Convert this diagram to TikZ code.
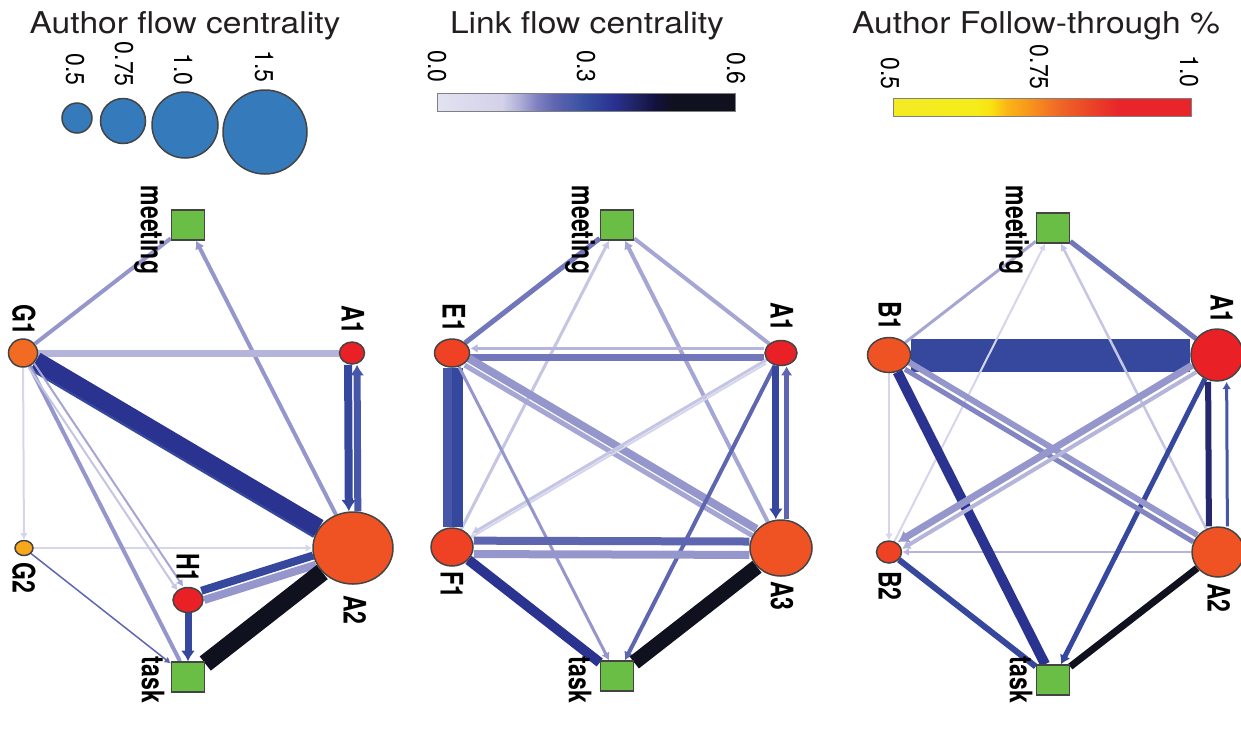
\documentclass[tikz,border=0pt]{standalone}
\usepackage{fontspec}
\setmainfont{TeX Gyre Heros}
\usetikzlibrary{shapes.geometric,arrows.meta,backgrounds}

% node colours
\definecolor{nodeline}{HTML}{444444}
\definecolor{actgreen}{HTML}{6ABD45}
\definecolor{legblue}{HTML}{357ABB}
\definecolor{authA}{HTML}{E92127}
\definecolor{authB}{HTML}{F05323}
\definecolor{authC}{HTML}{F26B22}
\definecolor{authD}{HTML}{F7A71B}
\definecolor{authE}{HTML}{EF4123}
\definecolor{titlegray}{HTML}{231F20}
% link colours, light to dark
\definecolor{lk1}{HTML}{D5D5EC}
\definecolor{lk2}{HTML}{C5C5E4}
\definecolor{lk3}{HTML}{B5B5DC}
\definecolor{lk4}{HTML}{A5A6D4}
\definecolor{lk5}{HTML}{9596CB}
\definecolor{lk6}{HTML}{8385C3}
\definecolor{lk7}{HTML}{7276BA}
\definecolor{lk8}{HTML}{5F66B0}
\definecolor{lk9}{HTML}{4656A8}
\definecolor{lk10}{HTML}{36489E}
\definecolor{lk11}{HTML}{2A3390}
\definecolor{lk12}{HTML}{25286F}
\definecolor{lk13}{HTML}{10111E}
% colour bar stops
\definecolor{cb0}{HTML}{E3E2F1}
\definecolor{cb1}{HTML}{D2D1E9}
\definecolor{cb2}{HTML}{ABABD6}
\definecolor{cb3}{HTML}{7E80C0}
\definecolor{cb4}{HTML}{6166B1}
\definecolor{cb5}{HTML}{3850A2}
\definecolor{cb6}{HTML}{2A3290}
\definecolor{cb7}{HTML}{1F2260}
\definecolor{cb8}{HTML}{11123E}
\definecolor{cb9}{HTML}{10111E}
\definecolor{yb0}{HTML}{F4EB24}
\definecolor{yb1}{HTML}{F6EC1A}
\definecolor{yb2}{HTML}{F9E010}
\definecolor{yb3}{HTML}{FBB516}
\definecolor{yb4}{HTML}{F7941D}
\definecolor{yb5}{HTML}{F06A26}
\definecolor{yb6}{HTML}{EB4427}
\definecolor{yb7}{HTML}{E8252A}

\tikzset{
	author/.style={ellipse, draw=nodeline, line width=0.75pt, inner sep=0pt},
	act/.style={rectangle, draw=nodeline, fill=actgreen, line width=0.75pt, minimum width=16.5pt, minimum height=15pt, inner sep=0pt},
	lbl/.style={font=\fontsize{11.5}{12}\selectfont\bfseries, xscale=1.35, rotate=-90, inner sep=0pt},
	num/.style={font=\fontsize{11.5}{12}\selectfont, xscale=1.12, rotate=-90, anchor=east, inner sep=0pt},
	ttl/.style={font=\fontsize{15}{18}\selectfont, text=titlegray, xscale=1.12, anchor=base, inner sep=0pt},
	arr/.style={-{Latex[length=2.5pt 0.8, width=2.5pt 1.3]}}
}

\begin{document}
\begin{tikzpicture}[x=0.5pt,y=-0.5pt]
	\useasboundingbox (0,0) rectangle (1241,751);

	% titles and legends
	\node[ttl] (ttlA) at (185,33) {Author flow centrality};
	\node[ttl] (ttlB) at (587,33) {Link flow centrality};
	\node[ttl] (ttlC) at (1036,33) {Author Follow-through \%};

	\foreach \cx/\cy/\r/\lx/\ly/\v in {77/118/15/75/86/0.5, 123/121/22.5/124/87/0.75, 185/125/33/183/86/1.0, 265/132/42/264/83/1.5}{
		\draw[fill=legblue, draw=nodeline, line width=0.75pt] (\cx,\cy) circle[radius=\r];
		\node[num] at (\lx,\ly) {\v};
	}

	\foreach \pa/\pb/\ca/\cb in {0/0.22/cb0/cb1, 0.22/0.28/cb1/cb2, 0.28/0.335/cb2/cb3, 0.335/0.39/cb3/cb4, 0.39/0.49/cb4/cb5, 0.49/0.59/cb5/cb6, 0.59/0.67/cb6/cb7, 0.67/0.73/cb7/cb8, 0.73/0.79/cb8/cb9, 0.79/1/cb9/cb9}
		\shade[left color=\ca, right color=\cb] ({437+298*\pa},93) rectangle ({437+298*\pb+0.5},111);
	\draw[gray, line width=0.5pt] (437,93) rectangle (735,111);
	\foreach \lx/\ly/\v in {437/83/0.0, 586/83/0.3, 736/85/0.6}
		\node[num] at (\lx,\ly) {\v};

	\foreach \pa/\pb/\ca/\cb in {0/0.28/yb0/yb1, 0.28/0.33/yb1/yb2, 0.33/0.38/yb2/yb3, 0.38/0.46/yb3/yb4, 0.46/0.55/yb4/yb5, 0.55/0.66/yb5/yb6, 0.66/0.76/yb6/yb7, 0.76/1/yb7/yb7}
		\shade[left color=\ca, right color=\cb] ({893+298*\pa},98) rectangle ({893+298*\pb+0.5},116);
	\draw[gray, line width=0.5pt] (893,98) rectangle (1191,116);
	\foreach \lx/\ly/\v in {890/90/0.5, 1039/90/0.75, 1189/88/1.0}
		\node[num] at (\lx,\ly) {\v};

	% left network
	\node[act] (meetA) at (188,225) {};
	\node[act] (taskA) at (188,677) {};
	\node[author, fill=authA, minimum width=12.5pt, minimum height=11pt] (A1a) at (352,353) {};
	\node[author, fill=authC, minimum width=14.5pt, minimum height=14pt] (G1a) at (23,353) {};
	\node[author, fill=authB, minimum width=40pt, minimum height=36pt] (A2a) at (353,548) {};
	\node[author, fill=authD, minimum width=9pt, minimum height=7.5pt] (G2a) at (24,548) {};
	\node[author, fill=authA, minimum width=15pt, minimum height=12.5pt] (H1a) at (188,600) {};
	\node[lbl] at (149,230) {meeting};
	\node[lbl] at (153,680) {task};
	\node[lbl] at (353,320) {A1};
	\node[lbl] at (24,320) {G1};
	\node[lbl] at (355,610) {A2};
	\node[lbl] at (24,578) {G2};
	\node[lbl] at (188,568) {H1};

	\begin{scope}[on background layer]
		\draw[lk5, line width=2pt] (G1a) -- (meetA);
		\draw[lk5, line width=2pt, arr] (A2a) -- (meetA);
		\draw[lk3, line width=3.5pt] (A1a) -- (G1a);
		\draw[lk10, line width=4pt, arr, transform canvas={xshift=-2pt}] (A1a) -- (A2a);
		\draw[lk9, line width=3.5pt, arr, transform canvas={xshift=2.5pt}] (A2a) -- (A1a);
		\draw[lk10, line width=4pt, transform canvas={shift={(-1.9pt,-3.2pt)}}] (A2a) -- (G1a);
		\draw[lk11, line width=9pt] (G1a) -- (A2a);
		\draw[lk1, line width=1pt, arr] (G1a) -- (G2a);
		\draw[lk1, line width=1pt, arr] (G2a) -- (A2a);
		\draw[lk8, line width=0.75pt, arr] (G2a) -- (taskA);
		\draw[lk5, line width=2pt] (G1a) -- (taskA);
		\draw[lk4, line width=1pt, arr, transform canvas={shift={(1.45pt,0.97pt)}}] (G1a) -- (H1a);
		\draw[lk2, line width=1pt, arr, transform canvas={shift={(-1.45pt,-0.97pt)}}] (G1a) -- (H1a);
		\draw[lk10, line width=4pt, transform canvas={shift={(-0.7pt,2.3pt)}}] (A2a) -- (H1a);
		\draw[lk5, line width=4pt, transform canvas={shift={(0.7pt,-2.3pt)}}] (H1a) -- (A2a);
		\draw[lk10, line width=3.5pt, arr] (H1a) -- (taskA);
		\draw[lk13, line width=9pt] (A2a) -- (taskA);
	\end{scope}

	% middle network
	\node[act] (meetB) at (617,225) {};
	\node[act] (taskB) at (617,676) {};
	\node[author, fill=authA, minimum width=16pt, minimum height=12.5pt] (A1b) at (781,353) {};
	\node[author, fill=authE, minimum width=17.5pt, minimum height=14pt] (E1b) at (452,353) {};
	\node[author, fill=authB, minimum width=31pt, minimum height=28pt] (A3b) at (781,548) {};
	\node[author, fill=authE, minimum width=21pt, minimum height=19pt] (F1b) at (452,547) {};
	\node[lbl] at (580,230) {meeting};
	\node[lbl] at (580,680) {task};
	\node[lbl] at (782,317) {A1};
	\node[lbl] at (454,318) {E1};
	\node[lbl] at (782,596) {A3};
	\node[lbl] at (452,585) {F1};

	\begin{scope}[on background layer]
		\draw[lk7, line width=2.5pt] (E1b) -- (meetB);
		\draw[lk4, line width=2pt] (A1b) -- (meetB);
		\draw[lk4, line width=2pt, arr] (A3b) -- (meetB);
		\draw[lk2, line width=1.5pt, arr] (F1b) -- (meetB);
		\draw[lk3, line width=1.5pt, arr, transform canvas={yshift=2.3pt}] (A1b) -- (E1b);
		\draw[lk7, line width=3.5pt, transform canvas={yshift=-2.2pt}] (E1b) -- (A1b);
		\draw[lk9, line width=5pt, transform canvas={xshift=-2.2pt}] (E1b) -- (F1b);
		\draw[lk10, line width=5.5pt, transform canvas={xshift=2.6pt}] (F1b) -- (E1b);
		\draw[lk5, line width=4pt, transform canvas={shift={(1pt,1.7pt)}}] (A3b) -- (E1b);
		\draw[lk4, line width=2.5pt, transform canvas={shift={(-1pt,-1.7pt)}}] (E1b) -- (A3b);
		\draw[lk2, line width=1.5pt, arr, transform canvas={shift={(0.76pt,1.3pt)}}] (A1b) -- (F1b);
		\draw[lk1, line width=1pt, arr, transform canvas={shift={(-0.76pt,-1.3pt)}}] (A1b) -- (F1b);
		\draw[lk5, line width=1.5pt, arr] (E1b) -- (taskB);
		\draw[lk8, line width=2pt, arr] (A1b) -- (taskB);
		\draw[lk10, line width=3.5pt, arr, transform canvas={xshift=-2.6pt}] (A1b) -- (A3b);
		\draw[lk8, line width=2.5pt, arr, transform canvas={xshift=2.8pt}] (A3b) -- (A1b);
		\draw[lk8, line width=4pt, transform canvas={yshift=3.2pt}] (F1b) -- (A3b);
		\draw[lk5, line width=4pt, transform canvas={yshift=-3.5pt}] (A3b) -- (F1b);
		\draw[lk11, line width=5pt] (F1b) -- (taskB);
		\draw[lk13, line width=7.5pt] (A3b) -- (taskB);
	\end{scope}

	% right network
	\node[act] (meetC) at (1053,228) {};
	\node[act] (taskC) at (1053,680) {};
	\node[author, fill=authA, minimum width=26pt, minimum height=26pt] (A1c) at (1217,355) {};
	\node[author, fill=authB, minimum width=21.5pt, minimum height=17.5pt] (B1c) at (889,355) {};
	\node[author, fill=authB, minimum width=26pt, minimum height=25pt] (A2c) at (1218,552) {};
	\node[author, fill=authE, minimum width=12.5pt, minimum height=11pt] (B2c) at (889,552) {};
	\node[lbl] at (1014,230) {meeting};
	\node[lbl] at (1021,680) {task};
	\node[lbl] at (1222,309) {A1};
	\node[lbl] at (890,316) {B1};
	\node[lbl] at (1219,598) {A2};
	\node[lbl] at (890,586) {B2};

	\begin{scope}[on background layer]
		\draw[lk10, line width=16.5pt] (A1c) -- (B1c);
		\draw[lk7, line width=2.5pt] (A1c) -- (meetC);
		\draw[lk4, line width=1.5pt] (B1c) -- (meetC);
		\draw[lk1, line width=1pt, arr] (B2c) -- (meetC);
		\draw[lk2, line width=1.25pt, arr] (A2c) -- (meetC);
		\draw[lk1, line width=1pt, arr] (B1c) -- (B2c);
		\draw[lk3, line width=1pt, arr] (A2c) -- (B2c);
		\draw[lk11, line width=5pt] (B1c) -- (taskC);
		\draw[lk10, line width=3pt] (B2c) -- (taskC);
		\draw[lk10, line width=2.5pt, arr] (A1c) -- (taskC);
		\draw[lk13, line width=3.5pt] (A2c) -- (taskC);
		\draw[lk12, line width=3pt, transform canvas={xshift=-4.5pt}] (A1c) -- (A2c);
		\draw[lk9, line width=1.5pt, arr, transform canvas={xshift=4.75pt}] (A2c) -- (A1c);
		\draw[lk5, line width=3pt, transform canvas={shift={(1.03pt,1.72pt)}}] (B1c) -- (A2c);
		\draw[lk6, line width=2.5pt, transform canvas={shift={(-1.03pt,-1.72pt)}}] (A2c) -- (B1c);
		\draw[lk5, line width=3.5pt, arr, transform canvas={shift={(-1.03pt,1.72pt)}}] (A1c) -- (B2c);
		\draw[lk3, line width=2pt, arr, transform canvas={shift={(1.03pt,-1.72pt)}}] (A1c) -- (B2c);
	\end{scope}
\end{tikzpicture}
\end{document}
